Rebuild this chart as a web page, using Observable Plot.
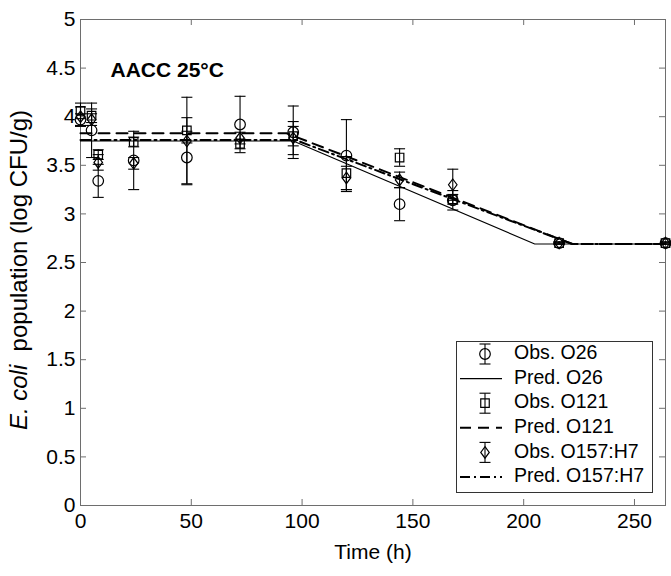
<!DOCTYPE html>
<html><head><meta charset="utf-8">
<script src="https://cdn.jsdelivr.net/npm/d3@7"></script>
<script src="https://cdn.jsdelivr.net/npm/@observablehq/plot@0.6"></script>
<style>
body{margin:0;background:#fff}
#wrap{position:relative;width:671px;height:576px;font-family:"Liberation Sans",Arial,sans-serif}
#legend{position:absolute;left:456px;top:341px}
</style>
</head><body><div id="wrap"></div>
<script>
// ---- data ----
const obsTime = [0, 5, 8, 24, 48, 72, 96, 120, 144, 168, 216, 264];
const o26Mean  = [3.97, 3.86, 3.34, 3.55, 3.58, 3.92, 3.84, 3.60, 3.10, 3.14, 2.70, 2.70];
const o26Err   = [0.06, 0.28, 0.17, 0.30, 0.27, 0.29, 0.27, 0.37, 0.17, 0.10, 0.01, 0.01];
const o121Mean = [4.06, 4.01, 3.61, 3.74, 3.86, 3.72, 3.80, 3.42, 3.58, 3.15, 2.70, 2.70];
const o121Err  = [0.08, 0.07, 0.05, 0.05, 0.13, 0.05, 0.10, 0.17, 0.09, 0.05, 0.01, 0.01];
const o157Mean = [4.00, 3.97, 3.53, 3.52, 3.75, 3.78, 3.78, 3.37, 3.35, 3.30, 2.70, 2.70];
const o157Err  = [0.10, 0.06, 0.08, 0.06, 0.45, 0.06, 0.17, 0.12, 0.08, 0.16, 0.01, 0.01];

const predTimeO26  = [0, 96, 205, 264];
const predO26      = [3.75, 3.75, 2.69, 2.69];
const predTimeO121 = [0, 93, 222, 264];
const predO121     = [3.83, 3.83, 2.69, 2.69];
const predTimeO157 = [0, 97, 222, 264];
const predO157     = [3.76, 3.76, 2.69, 2.69];

const xTicks = [0, 50, 100, 150, 200, 250];
const yTicks = [0, 0.5, 1, 1.5, 2, 2.5, 3, 3.5, 4, 4.5, 5];
const legendLabels = ["Obs. O26", "Pred. O26", "Obs. O121", "Pred. O121", "Obs. O157:H7", "Pred. O157:H7"];
const panelLabel = "AACC 25°C";
const xLabel = "Time (h)";

// ---- build tables ----
function obsRows(mean, err, strain) {
  return obsTime.map((t, i) => ({t, mean: mean[i], lo: mean[i] - err[i], hi: mean[i] + err[i], strain}));
}
function predRows(ts, vs, strain) { return ts.map((t, i) => ({t, v: vs[i], strain})); }
const obs26 = obsRows(o26Mean, o26Err, "O26");
const obs121 = obsRows(o121Mean, o121Err, "O121");
const obs157 = obsRows(o157Mean, o157Err, "O157:H7");
const allObs = [...obs26, ...obs121, ...obs157];

const capSymbol = {draw(ctx, size) { const w = Math.sqrt(size / Math.PI); ctx.moveTo(-w, 0); ctx.lineTo(w, 0); }};
const diamondSymbol = {draw(ctx, size) { const r = Math.sqrt(size / Math.PI); ctx.moveTo(0, -r * 1.15); ctx.lineTo(r * 0.85, 0); ctx.lineTo(0, r * 1.15); ctx.lineTo(-r * 0.85, 0); ctx.closePath(); }};

const W = 671, H = 576, mT = 19, mR = 6, mB = 71, mL = 80;
const plotH = H - mT - mB, plotW = W - mL - mR;
const font = "'Liberation Sans', Arial, sans-serif";

const chart = Plot.plot({
  width: W, height: H,
  marginTop: mT, marginRight: mR, marginBottom: mB, marginLeft: mL,
  style: {fontFamily: font, fontSize: "21px", color: "#000", background: "#fff"},
  x: {domain: [0, 264]},
  y: {domain: [0, 5]},
  marks: [
    Plot.frame({stroke: "#6e6e6e", strokeWidth: 1}),
    Plot.tickX(xTicks, {x: d => d, insetTop: plotH - 6, stroke: "#6e6e6e"}),
    Plot.tickX(xTicks, {x: d => d, insetBottom: plotH - 6, stroke: "#6e6e6e"}),
    Plot.tickY(yTicks, {y: d => d, insetRight: plotW - 6, stroke: "#6e6e6e"}),
    Plot.tickY(yTicks, {y: d => d, insetLeft: plotW - 6, stroke: "#6e6e6e"}),
    Plot.axisX({ticks: xTicks, tickSize: 0, tickPadding: 8, label: null, tickFormat: d => String(d), fontSize: 21}),
    Plot.axisY({ticks: yTicks, tickSize: 0, tickPadding: 5, label: null, tickFormat: d => String(d), fontSize: 21}),
    Plot.text([xLabel], {frameAnchor: "bottom", dy: 53, fontSize: 21, fill: "#000"}),
    Plot.text([panelLabel], {frameAnchor: "top-left", dx: 30, dy: 43, textAnchor: "start", fontWeight: "bold", fontSize: 21, fill: "#000"}),
    // predictions
    Plot.line(predRows(predTimeO26, predO26, "O26"), {x: "t", y: "v", stroke: "#000", strokeWidth: 1.1}),
    Plot.line(predRows(predTimeO121, predO121, "O121"), {x: "t", y: "v", stroke: "#000", strokeWidth: 2, strokeDasharray: "11,7"}),
    Plot.line(predRows(predTimeO157, predO157, "O157"), {x: "t", y: "v", stroke: "#000", strokeWidth: 2, strokeDasharray: "10,4,2,4"}),
    // error bars
    Plot.ruleX(allObs, {x: "t", y1: "lo", y2: "hi", stroke: "#000", strokeWidth: 1.1}),
    Plot.dot(allObs, {x: "t", y: "lo", symbol: capSymbol, r: 5.5, stroke: "#000", strokeWidth: 1.1, fill: "none"}),
    Plot.dot(allObs, {x: "t", y: "hi", symbol: capSymbol, r: 5.5, stroke: "#000", strokeWidth: 1.1, fill: "none"}),
    // markers
    Plot.dot(obs26, {x: "t", y: "mean", symbol: "circle", r: 5.3, stroke: "#000", strokeWidth: 1.2, fill: "none"}),
    Plot.dot(obs121, {x: "t", y: "mean", symbol: "square", r: 4.8, stroke: "#000", strokeWidth: 1.2, fill: "none"}),
    Plot.dot(obs157, {x: "t", y: "mean", symbol: diamondSymbol, r: 5, stroke: "#000", strokeWidth: 1.2, fill: "none"})
  ]
});

// y label with italic part
const svgSel = d3.select(chart);
const yl = svgSel.append("text")
  .attr("transform", `translate(${21},${mT + plotH / 2 + 8}) rotate(-90)`)
  .attr("text-anchor", "middle").attr("dominant-baseline", "middle")
  .attr("font-size", 24).attr("font-family", font).attr("fill", "#000");
yl.append("tspan").attr("font-style", "italic").text("E. coli");
yl.append("tspan").text("\u00a0 population (log CFU/g)");

const wrap = document.getElementById("wrap");
wrap.appendChild(chart);

// legend overlay
const LW = 197, LH = 152, rowH = 24.6, row0 = 13;
const leg = d3.select(wrap).append("svg").attr("id", "legend").attr("width", LW).attr("height", LH);
leg.append("rect").attr("x", 0.5).attr("y", 0.5).attr("width", LW - 1).attr("height", LH - 1)
  .attr("fill", "#fff").attr("stroke", "#333").attr("stroke-width", 1);
const symPaths = {
  circle: d3.symbol(d3.symbolCircle, Math.PI * 5.3 * 5.3)(),
  square: d3.symbol(d3.symbolSquare, Math.PI * 4.8 * 4.8)(),
  diamond: (() => { const p = d3.path(); const r = 5; p.moveTo(0, -r * 1.15); p.lineTo(r * 0.85, 0); p.lineTo(0, r * 1.15); p.lineTo(-r * 0.85, 0); p.closePath(); return p.toString(); })()
};
const symKeys = ["circle", "square", "diamond"];
const dashes = [null, "11,7", "10,4,2,4"];
const widths = [1.1, 2, 2];
legendLabels.forEach((lab, i) => {
  const cy = row0 + i * rowH;
  const g = leg.append("g");
  const k = Math.floor(i / 2);
  if (i % 2 === 0) {
    const cx = 29;
    g.append("line").attr("x1", cx).attr("x2", cx).attr("y1", cy - 10).attr("y2", cy + 10).attr("stroke", "#000").attr("stroke-width", 1.1);
    g.append("line").attr("x1", cx - 5.5).attr("x2", cx + 5.5).attr("y1", cy - 10).attr("y2", cy - 10).attr("stroke", "#000").attr("stroke-width", 1.1);
    g.append("line").attr("x1", cx - 5.5).attr("x2", cx + 5.5).attr("y1", cy + 10).attr("y2", cy + 10).attr("stroke", "#000").attr("stroke-width", 1.1);
    g.append("path").attr("d", symPaths[symKeys[k]]).attr("transform", `translate(${cx},${cy})`).attr("fill", "none").attr("stroke", "#000").attr("stroke-width", 1.2);
  } else {
    g.append("line").attr("x1", 4).attr("x2", 46).attr("y1", cy).attr("y2", cy).attr("stroke", "#000")
      .attr("stroke-width", widths[k]).attr("stroke-dasharray", dashes[k]);
  }
  g.append("text").attr("x", 58).attr("y", cy).attr("dominant-baseline", "middle")
    .attr("font-size", 19.5).attr("font-family", font).attr("fill", "#000").text(lab);
});
</script></body></html>
